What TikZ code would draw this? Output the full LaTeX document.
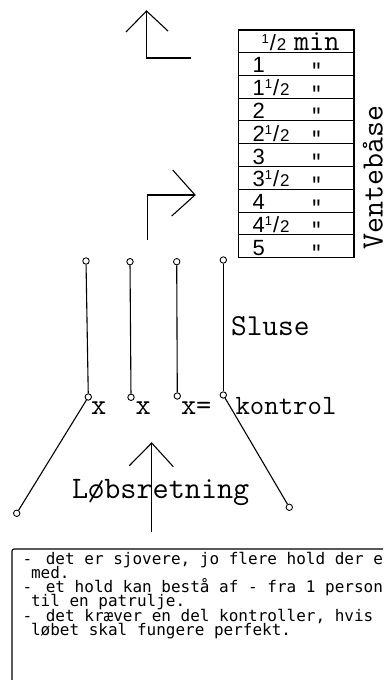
\documentclass[tikz,border=0pt]{standalone}
\usepackage{fontspec}
\newfontfamily\hand{Liberation Sans}
\newfontfamily\boxfont{DejaVu Sans Mono}
% typewriter face for the labels
\newcommand\typew{\ttfamily\addfontfeature{FakeBold=1.2}}
% hand-written one half: raised 1, slash, 2
\newcommand\hhalf{\raisebox{7pt}{\fontsize{13}{13}\selectfont 1}\kern1.2pt{\fontsize{22}{22}\selectfont /}\kern0.8pt{\fontsize{17}{17}\selectfont 2}}
% ditto mark, stretched and lowered so that its box hugs the strokes
\newcommand\ditto{\raisebox{-10pt}[7pt][0pt]{\scalebox{1.1}[1.35]{"}}}
\begin{document}
\begin{tikzpicture}[x=1pt,y=-1pt,line width=1.1pt,
  ring/.style={circle,draw,minimum size=6.4pt,inner sep=0pt,line width=0.9pt},
  lbl/.style={inner sep=0pt,anchor=base west},
  tw/.style={lbl,font=\fontsize{#1}{#1}\selectfont\typew},
  hw/.style={lbl,font=\hand\fontsize{22}{22}\selectfont},
  dit/.style={inner sep=0pt,anchor=base,font=\hand\fontsize{21}{21}\selectfont},
  nt/.style={lbl,font=\boxfont\fontsize{16}{16}\selectfont}]
\clip (0,0) rectangle (383,680);
\fill[white] (0,0) rectangle (383,680);

% arrow pointing up, with a turn to the right
\coordinate (t1) at (146.5,11);
\coordinate (t1l) at (126,32);
\coordinate (t1r) at (168,31);
\coordinate (t1c) at (146.5,58);
\coordinate (t1e) at (191,58);
\draw (t1l) -- (t1) -- (t1r);
\draw (t1) -- (t1c) -- (t1e);

% arrow pointing right, towards the waiting area
\coordinate (t2) at (195,195);
\coordinate (t2u) at (172.7,170);
\coordinate (t2d) at (171.7,216);
\coordinate (t2c) at (147.7,195);
\coordinate (t2b) at (147.7,240);
\draw (t2u) -- (t2) -- (t2d);
\draw (t2b) -- (t2c) -- (t2);

% waiting table
\draw (238.3,30) rectangle (354,257.7);
\foreach \k in {0,...,8} \draw (238.3,52.5+22.8*\k) -- (354,52.5+22.8*\k);
\node[hw] (hh) at (261,50) {\hhalf};
\node[tw=29.5] (mn) at (293.5,50) {min};
\foreach \lab [count=\i] in {1,1\hhalf,2,2\hhalf,3,3\hhalf,4,4\hhalf,5} {
  \node[hw] (n\i) at (252,52.5+22.8*\i-2.5) {\lab};
  \node[dit] (d\i) at (316.5,52.5+22.8*\i-3) {\ditto};
}
\node[tw=31,rotate=90] (vb) at (382.5,250) {Ventebåse};

% sluice posts
\node[ring] (a1) at (86,261) {};
\node[ring] (a2) at (88.3,397) {};
\node[ring] (b1) at (130,261.7) {};
\node[ring] (b2) at (131,397.3) {};
\node[ring] (c1) at (176.7,261.7) {};
\node[ring] (c2) at (177.3,396) {};
\node[ring] (e1) at (223.3,260) {};
\node[ring] (e2) at (223.3,395) {};
\node[ring] (fl) at (16.7,513.3) {};
\node[ring] (fr) at (289.3,507.3) {};
\draw (a1) -- (a2);
\draw (b1) -- (b2);
\draw (c1) -- (c2);
\draw (e1) -- (e2);
\draw (a2) -- (fl);
\draw (e2) -- (fr);

\node[tw=30.5] (sl) at (230.5,335) {Sluse};
\node[tw=29.5] (x1) at (90.5,414) {x};
\node[tw=29.5] (x2) at (135,414) {x};
\node[tw=29.5] (x3) at (180.5,414) {x=};
\node[tw=28] (ko) at (235,414) {kontrol};

% running direction
\coordinate (t3) at (151.7,443);
\coordinate (t3l) at (129.3,465.7);
\coordinate (t3r) at (173.3,466.7);
\coordinate (t3b) at (151.7,531.7);
\node[tw=31.3] (lr) at (71.5,498) {Løbsretning};
\draw (t3l) -- (t3) -- (t3r);
\draw (t3) -- (t3b);

% notes box
\draw[rounded corners=2pt] (395,549) -- (12,549) -- (12,695);
\node[nt] (h1) at (22,564) {-};
\node[nt] (l1) at (45.3,564) {det er sjovere, jo flere hold der er};
\node[nt] (l2) at (30.5,578) {med.};
\node[nt] (h3) at (22,592.3) {-};
\node[nt] (l3) at (45.3,592.3) {et hold kan bestå af - fra 1 person};
\node[nt] (l4) at (30.5,606.7) {til en patrulje.};
\node[nt] (h5) at (22,621) {-};
\node[nt] (l5) at (45.3,621) {det kræver en del kontroller, hvis};
\node[nt] (l6) at (30.5,635.5) {løbet skal fungere perfekt.};
\end{tikzpicture}
\end{document}
